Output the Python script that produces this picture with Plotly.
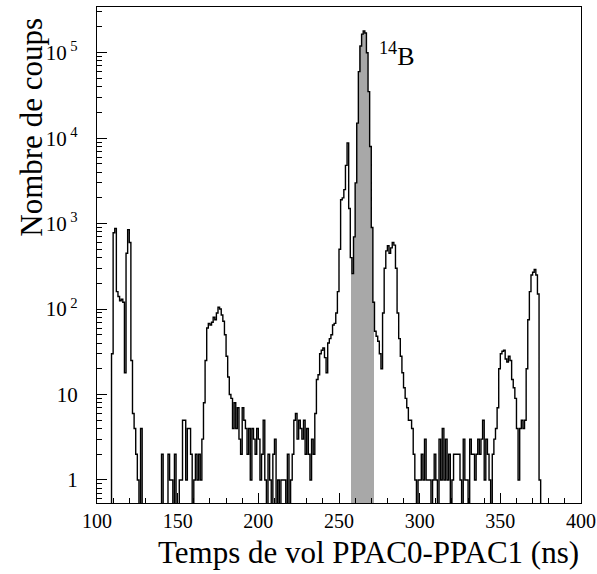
import numpy as np
import plotly.graph_objects as go

# ---- data: counts per 1 ns bin, bins start at 100 ns ----
bin_start = 100
bin_width = 1
counts_100 = [0, 0, 0, 0, 0, 0, 0, 0, 0, 30,
              780, 880, 160, 140, 125, 130, 120, 18, 450, 850,
              600, 25, 6, 4, 2, 1, 0, 4, 0, 0,
              0, 0, 0, 0, 0, 0, 0, 0, 0, 0,
              2, 0, 0, 0, 2, 1, 1, 0, 2, 0,
              0, 1, 1, 5, 5, 1, 4, 4, 2, 0,
              1, 2, 1, 2, 1, 3, 8, 25, 60, 68,
              65, 70, 80, 75, 90, 105, 100, 85, 72, 50,
              28, 16, 10, 9, 4, 8, 4, 7, 3, 2,
              7, 5, 4, 2, 4, 1, 4, 3, 2, 4]
counts_200 = [3, 1, 2, 5, 1, 0, 2, 1, 0, 2,
              3, 0, 1, 0, 1, 1, 1, 0, 2, 0,
              1, 2, 5, 6, 3, 5, 4, 3, 5, 2,
              4, 2, 1, 3, 2, 6, 15, 17, 30, 33,
              35, 27, 18, 40, 45, 50, 65, 68, 90, 160,
              500, 1900, 2000, 2500, 4800, 8800, 1500, 400, 260, 700,
              3000, 15000, 60000, 120000, 165000, 180000, 170000, 100000, 35000, 8000,
              900, 120, 55, 48, 42, 30, 20, 90, 300, 480,
              550, 450, 520, 600, 560, 300, 90, 45, 28, 18,
              12, 9, 7, 5, 5, 4, 2, 1, 0, 1]
counts_300 = [1, 2, 1, 3, 1, 1, 1, 0, 1, 2,
              1, 0, 3, 1, 4, 1, 3, 1, 2, 0,
              1, 2, 2, 2, 2, 1, 0, 3, 1, 1,
              0, 3, 2, 2, 1, 2, 3, 2, 3, 5,
              1, 3, 2, 1, 0, 2, 3, 4, 7, 20,
              30, 32, 33, 26, 24, 28, 25, 15, 12, 9,
              4, 1, 4, 5, 4, 5, 20, 75, 160, 250,
              270, 290, 250, 150, 1, 0, 0, 0, 0, 0,
              0, 0, 0, 0, 0, 0, 0, 0, 0, 0,
              0, 0, 0, 0, 0, 0, 0, 0, 0, 0]
gate_low, gate_high = 258, 272          # shaded 14B window (ns)
x_tick_vals = [100, 150, 200, 250, 300, 350, 400]
y_tick_vals = [1, 10, 100, 1000, 10000, 100000]
y_tick_text = ["1", "10", "10<sup> 2</sup>", "10<sup> 3</sup>", "10<sup> 4</sup>", "10<sup> 5</sup>"]
label_text = "<sup>14</sup>B"
x_title = "Temps de vol PPAC0-PPAC1 (ns)"
y_title = "Nombre de coups"

counts = np.array(counts_100 + counts_200 + counts_300, dtype=float)
edges = bin_start + bin_width * np.arange(len(counts) + 1)
centers = edges[:-1] + bin_width / 2

# zero bins fall below the visible log range (drawn to the bottom, as in ROOT)
plot_counts = np.where(counts > 0, counts, 0.05)
step_x = edges
step_y = np.append(plot_counts, plot_counts[-1])

gate = (edges[:-1] >= gate_low) & (edges[:-1] < gate_high)

FONT = "Liberation Serif, Times New Roman, serif"

fig = go.Figure()
fig.add_trace(go.Bar(x=centers[gate], y=counts[gate], width=bin_width,
                     marker=dict(color="rgb(168,168,168)", line=dict(width=0)),
                     showlegend=False, hoverinfo="skip"))
fig.add_trace(go.Scatter(x=step_x, y=step_y, mode="lines", line_shape="hv",
                         line=dict(color="black", width=1.4), showlegend=False))

minor_y = [m * 10 ** k for k in range(-1, 6) for m in range(2, 10)]

fig.update_layout(
    width=597, height=574,
    margin=dict(l=97, r=16, t=7, b=71, autoexpand=False),
    paper_bgcolor="white", plot_bgcolor="white",
    bargap=0,
    font=dict(family=FONT, color="black", size=20),
    xaxis=dict(range=[100, 400], tickmode="array", tickvals=x_tick_vals,
               ticks="inside", ticklen=10, tickwidth=1, tickcolor="black",
               showline=True, linecolor="black", linewidth=1.2, mirror=True,
               showgrid=False, zeroline=False, automargin=False,
               tickfont=dict(family=FONT, size=20, color="black"),
               minor=dict(tickmode="linear", tick0=100, dtick=10, ticks="inside",
                          ticklen=5, tickcolor="black", showgrid=False)),
    yaxis=dict(type="log", range=[-0.27, 5.535], tickmode="array",
               tickvals=y_tick_vals, ticktext=y_tick_text,
               ticks="inside", ticklen=10, tickwidth=1, tickcolor="black",
               showline=True, linecolor="black", linewidth=1.2, mirror=True,
               showgrid=False, zeroline=False, automargin=False,
               ticklabelstandoff=14,
               tickfont=dict(family=FONT, size=21, color="black"),
               minor=dict(tickmode="array", tickvals=minor_y, ticks="inside",
                          ticklen=5, tickcolor="black", showgrid=False)),
    annotations=[
        dict(text=x_title, xref="paper", yref="paper", x=1.0, y=-0.1,
             xanchor="right", yanchor="middle", showarrow=False,
             font=dict(family=FONT, size=31, color="black")),
        dict(text=y_title, xref="paper", yref="paper", x=-0.136, y=0.757,
             textangle=-90, xanchor="center", yanchor="middle", showarrow=False,
             font=dict(family=FONT, size=31, color="black")),
        dict(text=label_text, xref="x", yref="paper", x=273.5, y=0.905,
             xanchor="left", yanchor="middle", showarrow=False,
             font=dict(family=FONT, size=26, color="black")),
    ],
)

fig.write_html("out.html", config={"displayModeBar": False},
               post_script="document.body.style.margin='0px';document.body.style.overflow='hidden';")
